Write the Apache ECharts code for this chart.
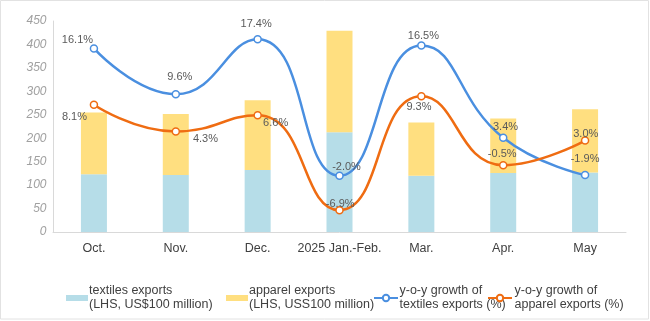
<!DOCTYPE html>
<html>
<head>
<meta charset="utf-8">
<script src="https://cdn.jsdelivr.net/npm/echarts@6/dist/echarts.min.js"></script>
<style>
html,body{margin:0;padding:0;background:#fff;}
#chart{width:650px;height:321px;}
</style>
</head>
<body>
<div id="chart"></div>
<script>
var categories = ['Oct.', 'Nov.', 'Dec.', '2025 Jan.-Feb.', 'Mar.', 'Apr.', 'May'];
var textilesExports = [123, 121.5, 132, 213, 120, 126, 127];
var apparelExports = [132, 130, 149, 216, 113.5, 116, 135];
var textilesGrowth = [16.1, 9.6, 17.4, -2.0, 16.5, 3.4, -1.9];
var apparelGrowth = [8.1, 4.3, 6.6, -6.9, 9.3, -0.5, 3.0];
var leftTicks = [0, 50, 100, 150, 200, 250, 300, 350, 400, 450];

var seriesNames = [
  'textiles exports\n(LHS, US$100 million)',
  'apparel exports\n(LHS, USS100 million)',
  'y-o-y growth of\ntextiles exports (%)',
  'y-o-y growth of\napparel exports (%)'
];

// label offsets (styling only)
var textilesLabelOffsets = [[-16.5, -8], [4, -17], [-1.5, -15], [7, -8.5], [2, -9.5], [2.3, -11], [0, -16]];
var apparelLabelOffsets = [[-19.5, 12.5], [29.7, 7.5], [18, 8], [0.7, -6], [-2.4, 10.3], [-1, -11.3], [0.7, -7]];

var BLUE = '#4A8FE0', ORANGE = '#EF6C12';

function lineData(vals, offs) {
  return vals.map(function (v, i) {
    return { value: v, label: { offset: offs[i] } };
  });
}

var chart = echarts.init(document.getElementById('chart'), null, { renderer: 'canvas' });

var legendBase = {
  orient: 'horizontal',
  top: 284,
  padding: 0,
  itemGap: 0,
  selectedMode: false,
  textStyle: { fontFamily: 'Liberation Sans, Arial, sans-serif', fontSize: 12.5, color: '#404040', lineHeight: 14 }
};
function mkLegend(name, left, w, h, pad, extra) {
  var l = Object.assign({}, legendBase, {
    data: [name], left: left, itemWidth: w, itemHeight: h,
    textStyle: Object.assign({}, legendBase.textStyle, { padding: [0, 0, 0, pad] })
  }, extra || {});
  return l;
}

var option = {
  animation: false,
  backgroundColor: '#fff',
  graphic: [{
    type: 'rect', shape: { x: 0.5, y: 0.5, width: 648, height: 318.5 },
    style: { fill: 'none', stroke: '#e2e2e2', lineWidth: 1 }, silent: true, z: -1
  }],
  grid: { left: 53, right: 24, top: 21, bottom: 89, containLabel: false },
  legend: [
    mkLegend(seriesNames[0], 66, 22, 6, -4, { icon: 'rect' }),
    mkLegend(seriesNames[1], 226, 22, 6, -4, { icon: 'rect' }),
    mkLegend(seriesNames[2], 373, 24, 8, -3.5),
    mkLegend(seriesNames[3], 487, 24, 8, -2.5)
  ],
  xAxis: {
    type: 'category',
    data: categories,
    boundaryGap: true,
    axisLine: { show: true, lineStyle: { color: '#d9d9d9', width: 1 } },
    axisTick: { show: false },
    axisLabel: { margin: 10, interval: 0, color: '#404040', fontSize: 12.5, fontFamily: 'Liberation Sans, Arial, sans-serif' },
    splitLine: { show: false }
  },
  yAxis: [{
    type: 'value',
    min: leftTicks[0], max: leftTicks[leftTicks.length - 1], interval: leftTicks[1] - leftTicks[0],
    axisLine: { show: true, lineStyle: { color: '#d9d9d9', width: 1 } },
    axisTick: { show: false },
    splitLine: { show: false },
    axisLabel: { margin: 6.5, color: '#a0a0a0', fontSize: 12, fontStyle: 'italic', fontFamily: 'Liberation Sans, Arial, sans-serif' }
  }, {
    type: 'value',
    min: -10, max: 20, interval: 5,
    show: false,
    splitLine: { show: false }
  }],
  series: [{
    name: seriesNames[0],
    type: 'bar',
    stack: 'total',
    data: textilesExports,
    barWidth: 26,
    itemStyle: { color: '#B6DDE8' }
  }, {
    name: seriesNames[1],
    type: 'bar',
    stack: 'total',
    data: apparelExports,
    barWidth: 26,
    itemStyle: { color: '#FFDF80' }
  }, {
    name: seriesNames[2],
    type: 'line',
    yAxisIndex: 1,
    smooth: 0.5,
    data: lineData(textilesGrowth, textilesLabelOffsets),
    symbol: 'circle',
    symbolSize: 7,
    lineStyle: { color: BLUE, width: 2.5 },
    itemStyle: { color: '#fff', borderColor: BLUE, borderWidth: 1.5 },
    label: {
      show: true, position: 'inside',
      formatter: function (p) { return p.value.toFixed(1) + '%'; },
      color: '#5a5a5a', fontSize: 11, fontFamily: 'Liberation Sans, Arial, sans-serif'
    },
    z: 5
  }, {
    name: seriesNames[3],
    type: 'line',
    yAxisIndex: 1,
    smooth: 0.5,
    data: lineData(apparelGrowth, apparelLabelOffsets),
    symbol: 'circle',
    symbolSize: 7,
    lineStyle: { color: ORANGE, width: 2.5 },
    itemStyle: { color: '#fff', borderColor: ORANGE, borderWidth: 1.5 },
    label: {
      show: true, position: 'inside',
      formatter: function (p) { return p.value.toFixed(1) + '%'; },
      color: '#5a5a5a', fontSize: 11, fontFamily: 'Liberation Sans, Arial, sans-serif'
    },
    z: 5
  }]
};
chart.setOption(option);
</script>
</body>
</html>
